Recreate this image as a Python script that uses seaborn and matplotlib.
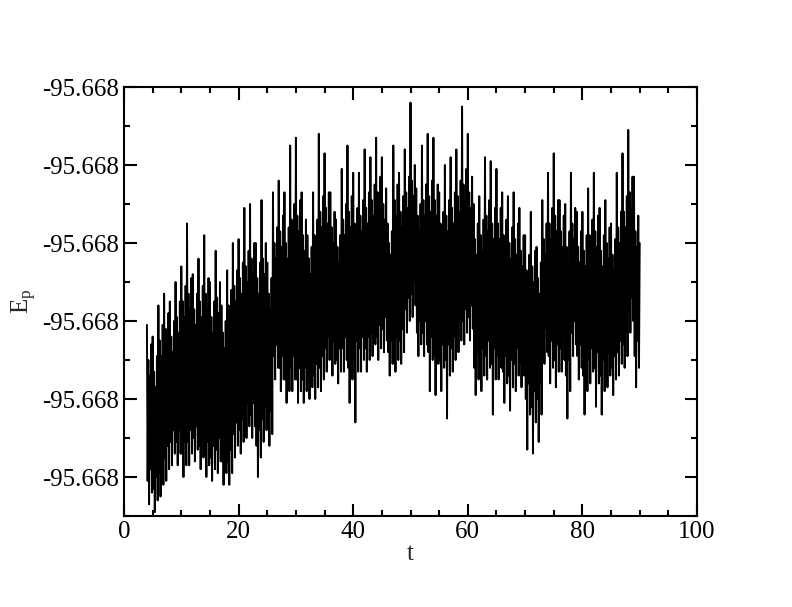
import numpy as np
import pandas as pd
import matplotlib
matplotlib.use("Agg")
import matplotlib.pyplot as plt
import seaborn as sns
from matplotlib.ticker import FormatStrFormatter, MultipleLocator

# time axis: one sample every 0.125 from t=4 to t=90
t_start, t_step = 4.0, 0.125

# potential energy, stored as offsets in 1e-6 above -95.66810
# (one row per time unit)
ep_base = -95.66810
ep_off = [
    39, -1, 30, -7, 26, 2, 34, -4,
    36, -3, 27, -9, 23, 0, 31, -6,
    44, 1, 35, -5, 31, 4, 39, -2,
    47, 5, 38, -1, 34, 8, 42, 2,
    45, 9, 36, 3, 32, 12, 40, 6,
    50, 9, 41, 3, 37, 12, 45, 6,
    54, 6, 45, 0, 41, 9, 49, 3,
    65, 9, 47, 3, 43, 12, 51, 6,
    52, 10, 43, 4, 39, 13, 47, 7,
    56, 8, 45, 2, 41, 11, 49, 5,
    62, 6, 47, 0, 43, 9, 51, 3,
    50, 5, 41, -1, 37, 8, 45, 2,
    58, 7, 46, 1, 42, 10, 50, 4,
    44, 4, 37, -2, 33, 7, 40, 1,
    53, 4, 44, -2, 40, 7, 48, 1,
    60, 11, 49, 5, 45, 14, 53, 8,
    61, 12, 51, 6, 47, 15, 55, 9,
    69, 16, 54, 10, 50, 19, 58, 13,
    70, 16, 56, 10, 52, 19, 60, 13,
    60, 8, 51, 0, 47, 12, 55, 5,
    71, 15, 56, 9, 52, 18, 60, 12,
    55, 14, 47, 8, 43, 17, 51, 11,
    73, 31, 60, 25, 56, 34, 64, 28,
    76, 28, 63, 22, 59, 31, 67, 25,
    73, 25, 60, 19, 56, 28, 64, 22,
    85, 28, 66, 22, 62, 31, 70, 25,
    87, 25, 67, 19, 63, 28, 71, 22,
    73, 25, 62, 19, 58, 28, 66, 22,
    62, 26, 56, 20, 52, 29, 59, 23,
    73, 26, 62, 20, 58, 29, 66, 23,
    88, 28, 68, 22, 64, 31, 72, 25,
    83, 33, 69, 27, 65, 36, 73, 30,
    73, 32, 64, 26, 60, 35, 68, 29,
    66, 30, 59, 24, 55, 33, 62, 27,
    79, 33, 66, 27, 62, 36, 70, 30,
    85, 28, 68, 19, 64, 33, 72, 25,
    78, 30, 65, 14, 61, 35, 69, 27,
    78, 33, 67, 27, 63, 36, 71, 30,
    84, 33, 69, 27, 65, 36, 73, 30,
    82, 37, 71, 31, 67, 40, 75, 34,
    87, 36, 73, 30, 69, 39, 77, 33,
    82, 38, 70, 32, 66, 41, 74, 35,
    65, 32, 60, 26, 57, 35, 63, 29,
    85, 33, 71, 27, 67, 36, 75, 30,
    78, 35, 68, 29, 64, 38, 72, 32,
    84, 43, 73, 37, 69, 46, 77, 40,
    96, 47, 76, 41, 72, 50, 80, 44,
    74, 37, 67, 31, 63, 40, 70, 34,
    85, 37, 71, 31, 67, 40, 75, 34,
    88, 32, 72, 22, 68, 36, 76, 30,
    87, 31, 71, 21, 67, 35, 75, 29,
    73, 30, 65, 22, 61, 34, 68, 28,
    80, 30, 67, 15, 63, 34, 71, 26,
    82, 33, 69, 27, 65, 36, 73, 30,
    84, 38, 72, 32, 68, 41, 76, 35,
    95, 40, 75, 34, 71, 43, 79, 37,
    88, 41, 73, 35, 69, 44, 77, 38,
    70, 28, 61, 21, 57, 32, 65, 25,
    72, 29, 62, 22, 58, 33, 66, 26,
    82, 31, 67, 25, 63, 35, 71, 28,
    81, 29, 65, 16, 61, 33, 69, 25,
    79, 31, 65, 25, 61, 34, 69, 28,
    73, 27, 62, 19, 58, 31, 66, 24,
    72, 26, 60, 17, 56, 30, 64, 23,
    73, 29, 61, 22, 57, 33, 65, 26,
    69, 29, 58, 23, 54, 32, 62, 26,
    62, 20, 53, 7, 49, 24, 57, 16,
    68, 18, 54, 6, 50, 22, 58, 14,
    59, 20, 51, 9, 47, 24, 55, 16,
    71, 35, 61, 29, 57, 38, 65, 32,
    78, 31, 65, 24, 61, 35, 69, 28,
    83, 30, 67, 23, 63, 34, 71, 27,
    71, 33, 63, 27, 59, 36, 67, 30,
    70, 26, 59, 15, 55, 30, 63, 22,
    78, 37, 65, 31, 61, 40, 69, 34,
    68, 31, 59, 25, 55, 34, 63, 28,
    68, 26, 58, 16, 54, 30, 62, 22,
    74, 30, 62, 24, 58, 33, 66, 27,
    78, 28, 63, 18, 59, 32, 67, 24,
    69, 26, 58, 16, 54, 30, 62, 22,
    71, 29, 60, 23, 56, 32, 64, 26,
    65, 28, 57, 21, 53, 31, 61, 25,
    78, 32, 64, 26, 60, 35, 68, 29,
    83, 34, 68, 28, 64, 37, 72, 31,
    89, 43, 73, 37, 69, 46, 77, 40,
    77, 31, 63, 23, 59, 35, 67, 28,
    60,
]

t = t_start + t_step * np.arange(len(ep_off))
df = pd.DataFrame({"t": t, "Ep": ep_base + np.array(ep_off) * 1e-6})

sns.set_style("ticks")
plt.rcParams["font.family"] = ["Liberation Serif", "DejaVu Serif"]
plt.rcParams["mathtext.fontset"] = "custom"
plt.rcParams["mathtext.rm"] = "Liberation Serif"
plt.rcParams["mathtext.it"] = "Liberation Serif"

fig = plt.figure(figsize=(7.92, 6.07), dpi=100)
ax = fig.add_axes([124 / 792, 1 - 516 / 607, 573 / 792, 429 / 607])

sns.lineplot(data=df, x="t", y="Ep", color="black", linewidth=1.4, ax=ax,
             estimator=None)

ax.set_xlim(0, 100)
ax.set_ylim(ep_base - 10e-6, ep_base + 100e-6)
ax.xaxis.set_major_locator(MultipleLocator(20))
ax.xaxis.set_minor_locator(MultipleLocator(5))
ax.set_yticks([ep_base + k * 20e-6 for k in range(6)])
ax.yaxis.set_minor_locator(MultipleLocator(10e-6))
ax.yaxis.set_major_formatter(FormatStrFormatter("%.3f"))

ax.tick_params(which="both", direction="in", top=True, right=True,
               width=1.5, labelsize=18, colors="black")
ax.tick_params(which="major", length=9)
ax.tick_params(which="minor", length=4.5)
for s in ax.spines.values():
    s.set_linewidth(1.5)
    s.set_color("black")

ax.set_xlabel("t", fontsize=18, labelpad=0)
ax.set_ylabel(r"$\mathrm{E}_\mathrm{p}$", fontsize=18, labelpad=2)

fig.savefig("out.png", dpi=100, facecolor="white")
